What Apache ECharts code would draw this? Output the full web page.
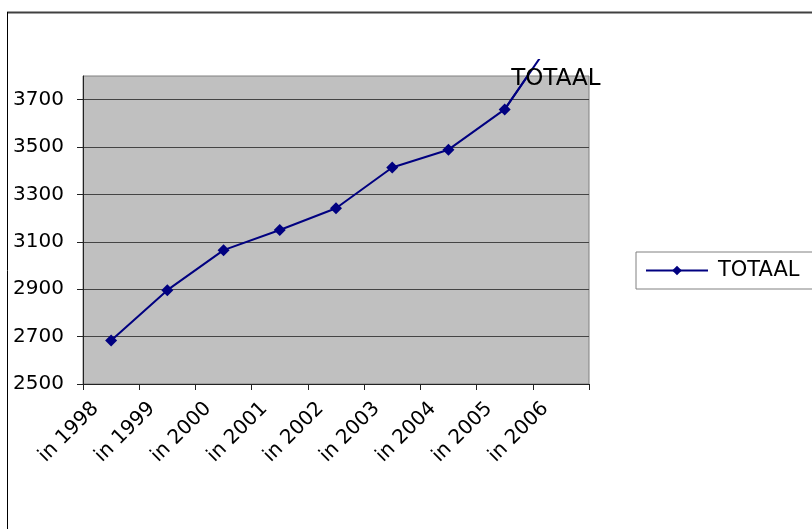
<!DOCTYPE html>
<html>
<head>
<meta charset="utf-8">
<script src="https://cdn.jsdelivr.net/npm/echarts@6/dist/echarts.min.js"></script>
<style>
html,body{margin:0;padding:0;background:#fff;}
#c{width:812px;height:529px;}
</style>
</head>
<body>
<div id="c"></div>
<script>
var categories = ['in 1998','in 1999','in 2000','in 2001','in 2002','in 2003','in 2004','in 2005','in 2006'];
var totaal = [2684, 2896, 3065, 3150, 3242, 3414, 3489, 3659, 4005];
var seriesName = 'TOTAAL';
var yMin = 2500, yMax = 3800, yStep = 200;

var FONT = 'DejaVu Sans';
// plot area geometry (px)
var gLeft = 83, gTop = 76, gRight = 223, gBottom = 145, H = 529;
// Excel lets the line run a little above the plot area before clipping
var overTop = 60;
var plotH = H - gTop - gBottom;
var pxPerUnit = plotH / (yMax - yMin);
var yMaxOver = yMin + (H - overTop - gBottom) / pxPerUnit;
var n = totaal.length;
var tailData = totaal.map(function (v, i) { return i >= n - 2 ? v : null; });

var chart = echarts.init(document.getElementById('c'), null, {renderer: 'canvas'});
chart.setOption({
  animation: false,
  backgroundColor: '#ffffff',
  graphic: [
    {type: 'line', shape: {x1: 7, y1: 12.5, x2: 812, y2: 12.5}, style: {stroke: '#404040', lineWidth: 2}, z: 100},
    {type: 'line', shape: {x1: 7.5, y1: 12, x2: 7.5, y2: 529}, style: {stroke: '#000000', lineWidth: 1}, z: 100}
  ],
  grid: [{
    left: gLeft, top: gTop, right: gRight, bottom: gBottom,
    show: true, backgroundColor: '#c0c0c0', borderColor: '#808080', borderWidth: 1,
    containLabel: false
  }, {
    left: gLeft, top: overTop, right: gRight, bottom: gBottom,
    show: false, containLabel: false
  }],
  legend: {
    left: 636, top: 252,
    orient: 'vertical',
    padding: [8, 30, 8, 9],
    borderColor: '#808080', borderWidth: 1,
    itemWidth: 62, itemHeight: 12,
    textStyle: {fontFamily: FONT, fontSize: 21, color: '#000', padding: [0, 0, 0, 5]},
    data: [seriesName]
  },
  xAxis: [{
    type: 'category',
    gridIndex: 0,
    data: categories,
    boundaryGap: true,
    axisLine: {lineStyle: {color: '#222', width: 1}},
    axisTick: {show: true, length: 6, lineStyle: {color: '#222'}},
    axisLabel: {
      rotate: 45, fontFamily: FONT, fontSize: 20, color: '#000',
      margin: 6, padding: [0, 22, 0, 0], interval: 0
    },
    splitLine: {show: false}
  }, {
    type: 'category', gridIndex: 1, data: categories, boundaryGap: true, show: false
  }],
  yAxis: [{
    type: 'value',
    gridIndex: 0,
    min: yMin, max: yMax, interval: yStep,
    axisLine: {show: true, lineStyle: {color: '#222', width: 1}},
    axisTick: {show: true, length: 6, lineStyle: {color: '#222'}},
    axisLabel: {fontFamily: FONT, fontSize: 20, color: '#000', margin: 19, showMaxLabel: false,
                formatter: function (v) { return String(v); }},
    splitLine: {show: true, showMaxLine: false, lineStyle: {color: '#444', width: 1}}
  }, {
    type: 'value', gridIndex: 1, min: yMin, max: yMaxOver, show: false, splitLine: {show: false}
  }],
  series: [{
    name: seriesName + ' tail',
    type: 'line',
    xAxisIndex: 1, yAxisIndex: 1,
    data: tailData,
    clip: true,
    symbol: 'none',
    lineStyle: {color: '#000080', width: 2},
    z: 1
  }, {
    name: seriesName,
    type: 'line',
    data: totaal,
    clip: true,
    symbol: 'diamond',
    symbolSize: 12,
    itemStyle: {color: '#000080'},
    lineStyle: {color: '#000080', width: 2},
    z: 3,
    markPoint: {
      symbol: 'rect', symbolSize: 1,
      itemStyle: {color: 'rgba(0,0,0,0)'},
      label: {show: true, formatter: seriesName, position: 'inside', offset: [-5, 3],
              fontFamily: FONT, fontSize: 23, color: '#000'},
      data: [{coord: [categories[categories.length - 1], yMax]}]
    }
  }]
});
</script>
</body>
</html>
